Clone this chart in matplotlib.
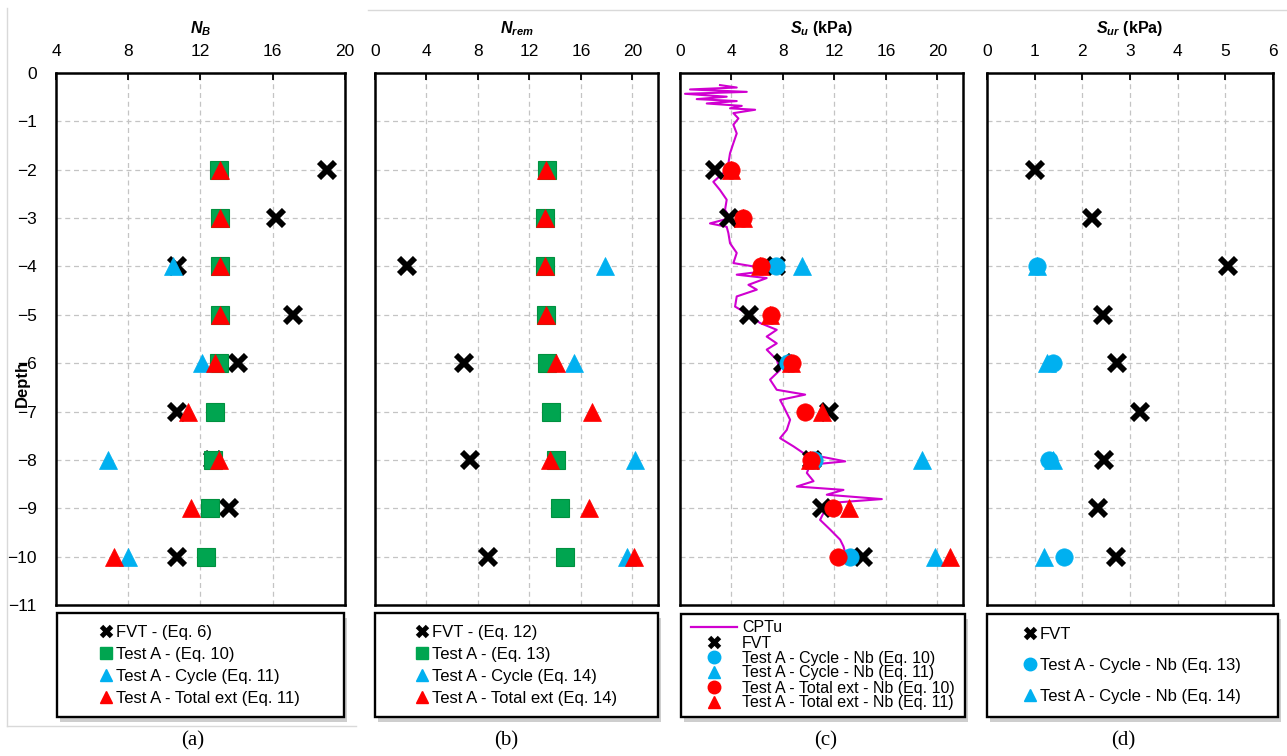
import matplotlib
matplotlib.use("Agg")
import matplotlib.pyplot as plt
from matplotlib import font_manager
from matplotlib.lines import Line2D
from matplotlib.patches import Rectangle

# ---- values ----
depth_all = [-2, -3, -4, -5, -6, -7, -8, -9, -10]
depth_even = [-4, -6, -8, -10]

# (a) N_B
nb_fvt = [19.0, 16.2, 10.7, 17.1, 14.1, 10.7, 12.7, 13.6, 10.7]
nb_testa = [13.0, 13.1, 13.1, 13.1, 13.0, 12.8, 12.7, 12.5, 12.3]
nb_cycle = [10.5, 12.1, 6.9, 8.0]
nb_total = [13.1, 13.1, 13.1, 13.1, 12.8, 11.3, 13.0, 11.5, 7.2]

# (b) N_rem
nrem_fvt = [2.5, 6.9, 7.4, 8.8]
nrem_testa = [13.4, 13.2, 13.2, 13.3, 13.4, 13.7, 14.1, 14.4, 14.8]
nrem_cycle = [17.9, 15.5, 20.2, 19.6]
nrem_total = [13.3, 13.2, 13.2, 13.3, 14.1, 16.9, 13.6, 16.6, 20.1]

# (c) S_u (kPa)
su_fvt = [2.7, 3.8, 7.5, 5.4, 8.0, 11.6, 10.3, 11.0, 14.2]
su_cycle_eq10 = [7.5, 8.4, 10.4, 13.2]
su_cycle_eq11_depth = [-4, -8, -10]
su_cycle_eq11 = [9.5, 18.8, 19.8]
su_total_eq10 = [4.0, 4.9, 6.3, 7.1, 8.7, 9.7, 10.2, 11.9, 12.3]
su_total_eq11 = [4.0, 4.9, 6.2, 7.0, 8.6, 11.0, 10.1, 13.1, 21.0]

cptu_su = [3.11, 4.41, 0.78, 5.19, 0.39, 3.63, 1.30, 4.41, 2.08, 4.80, 3.89, 5.84,
           4.15, 4.54, 4.15, 4.41, 4.15, 3.89, 3.76, 3.37, 2.59, 3.11, 3.63, 3.50,
           3.89, 2.33, 3.63, 3.76, 3.89, 4.41, 4.15, 5.71, 6.23, 4.41, 6.74, 5.32,
           5.97, 4.41, 4.28, 5.19, 6.23, 7.52, 6.74, 7.52, 6.74, 7.52, 7.78, 7.00,
           7.52, 9.73, 7.78, 8.04, 8.56, 8.30, 7.78, 8.82, 9.60, 12.84, 10.12, 9.86,
           10.38, 9.08, 12.71, 11.41, 15.69, 11.67, 11.15, 10.89, 11.67, 12.45, 12.71, 12.84]
cptu_depth = [-0.25, -0.30, -0.34, -0.39, -0.43, -0.49, -0.54, -0.58, -0.63, -0.68, -0.73, -0.76,
              -0.83, -0.94, -1.07, -1.25, -1.45, -1.66, -1.87, -2.07, -2.25, -2.42, -2.62, -2.83,
              -3.00, -3.11, -3.18, -3.31, -3.52, -3.72, -3.93, -4.00, -4.11, -4.17, -4.24, -4.38,
              -4.48, -4.62, -4.83, -4.97, -5.17, -5.31, -5.45, -5.59, -5.72, -5.93, -6.14, -6.34,
              -6.55, -6.65, -6.76, -6.89, -7.17, -7.38, -7.55, -7.72, -7.86, -8.03, -8.10, -8.27,
              -8.44, -8.55, -8.62, -8.72, -8.81, -8.89, -9.10, -9.24, -9.44, -9.65, -9.79, -9.92]

# (d) S_ur (kPa)
sur_fvt = [1.0, 2.2, 5.05, 2.43, 2.72, 3.22, 2.45, 2.33, 2.7]
sur_cycle_eq13 = [1.05, 1.38, 1.3, 1.62]
sur_cycle_eq14 = [1.05, 1.25, 1.38, 1.2]


def pick(names):
    for n in names:
        try:
            font_manager.findfont(n, fallback_to_default=False)
            return n
        except Exception:
            pass
    return 'DejaVu Sans'


SANS = pick(['Liberation Sans', 'Arial'])
NARROW = pick(['Liberation Sans Narrow', 'Liberation Sans'])
SERIF = pick(['Liberation Serif', 'DejaVu Serif'])

plt.rcParams['font.family'] = [SANS, 'DejaVu Sans']
plt.rcParams['mathtext.fontset'] = 'custom'
plt.rcParams['mathtext.it'] = SANS + ':italic'
plt.rcParams['mathtext.bf'] = SANS + ':bold'
plt.rcParams['mathtext.rm'] = SANS
try:
    plt.rcParams['mathtext.bfit'] = SANS + ':italic:bold'
except KeyError:
    pass

GREEN = '#00A550'
BLUE = '#00B0F0'
RED = '#FF0000'
MAG = '#D000D0'

W, H = 1287, 756
fig = plt.figure(figsize=(W / 100, H / 100), dpi=100)
TOP, BOT = 73, 605


def px_axes(left, right):
    return fig.add_axes([left / W, 1 - BOT / H, (right - left) / W, (BOT - TOP) / H])


def setup(ax, xlim, xticks, title, show_y):
    ax.set_xlim(*xlim)
    ax.set_ylim(-11, 0)
    ax.set_xticks(xticks)
    ax.set_yticks(list(range(0, -12, -1)))
    ax.xaxis.tick_top()
    ax.tick_params(axis='x', direction='in', length=5, width=1.3, pad=10, labelsize=12.5)
    ax.tick_params(axis='y', length=0, pad=14, labelsize=12.5, labelleft=show_y)
    ax.grid(True, color='#c4c4c4', linestyle=(0, (4, 3)), linewidth=0.9)
    ax.set_axisbelow(True)
    for s in ax.spines.values():
        s.set_linewidth(1.8)
    ax.text(0.5, 1 + (73 - 29) / (BOT - TOP), title, transform=ax.transAxes,
            ha='center', va='center', fontsize=11.5, fontweight='bold')


def fvt(ax, x, y):
    return ax.plot(x, y, ls='none', marker='x', ms=12, mew=4.2, color='black', zorder=3)[0]


def square(ax, x, y):
    return ax.plot(x, y, ls='none', marker='s', ms=12.5, mfc=GREEN, mec='#00913F', mew=0.8, zorder=4)[0]


def tri(ax, x, y, c, z=5):
    return ax.plot(x, y, ls='none', marker='^', ms=13, mfc=c, mec=c, mew=0.5, zorder=z)[0]


def circ(ax, x, y, c, z=5):
    return ax.plot(x, y, ls='none', marker='o', ms=12.5, mfc=c, mec=c, mew=0.5, zorder=z)[0]


# legend handles (smaller than the plotted markers)
h_x = Line2D([], [], ls='none', marker='x', ms=7, mew=3.5, color='black')
h_sq = Line2D([], [], ls='none', marker='s', ms=8, mfc=GREEN, mec=GREEN)
h_tb = Line2D([], [], ls='none', marker='^', ms=9, mfc=BLUE, mec=BLUE)
h_tr = Line2D([], [], ls='none', marker='^', ms=9, mfc=RED, mec=RED)
h_cb = Line2D([], [], ls='none', marker='o', ms=9, mfc=BLUE, mec=BLUE)
h_cr = Line2D([], [], ls='none', marker='o', ms=9, mfc=RED, mec=RED)
h_line = Line2D([], [], color=MAG, lw=1.6)


def legend_box(handles, labels, x0, x1, y0, y1, size, spacing, hl, htp):
    fig.add_artist(Rectangle(((x0 + 3) / W, 1 - (y1 + 5) / H), (x1 - x0) / W, (y1 - y0) / H,
                             transform=fig.transFigure, facecolor='#a6a6a6', edgecolor='none',
                             alpha=0.55, zorder=0))
    fig.add_artist(Rectangle((x0 / W, 1 - y1 / H), (x1 - x0) / W, (y1 - y0) / H,
                             transform=fig.transFigure, facecolor='white', edgecolor='black',
                             linewidth=1.7, zorder=1))
    leg = fig.legend(handles, labels, loc='center',
                     bbox_to_anchor=((x0 + x1) / 2 / W, 1 - (y0 + y1) / 2 / H),
                     frameon=False, prop={'family': NARROW, 'size': size},
                     labelspacing=spacing, handlelength=hl, handletextpad=htp,
                     borderpad=0, borderaxespad=0, numpoints=1)
    leg.set_zorder(2)


# ---- (a) N_B ----
ax = px_axes(56, 345)
setup(ax, (4, 20), [4, 8, 12, 16, 20], r'$\mathbfit{N}_{\mathbfit{B}}$', True)
fvt(ax, nb_fvt, depth_all)
square(ax, nb_testa, depth_all)
tri(ax, nb_cycle, depth_even, BLUE)
tri(ax, nb_total, depth_all, RED, 6)
fig.text(22 / W, 1 - 383 / H, 'Depth', rotation=90, ha='center', va='center',
         fontsize=12, fontweight='bold')
legend_box([h_x, h_sq, h_tb, h_tr],
           ['FVT - (Eq. 6)', 'Test A - (Eq. 10)', 'Test A - Cycle (Eq. 11)', 'Test A - Total ext (Eq. 11)'],
           57, 344, 613, 717, 12, 0.42, 0.7, 0.25)

# ---- (b) N_rem ----
ax = px_axes(375, 658)
setup(ax, (0, 22), [0, 4, 8, 12, 16, 20], r'$\mathbfit{N}_{\mathbfit{rem}}$', False)
fvt(ax, nrem_fvt, depth_even)
square(ax, nrem_testa, depth_all)
tri(ax, nrem_cycle, depth_even, BLUE)
tri(ax, nrem_total, depth_all, RED, 6)
legend_box([h_x, h_sq, h_tb, h_tr],
           ['FVT - (Eq. 12)', 'Test A - (Eq. 13)', 'Test A - Cycle (Eq. 14)', 'Test A - Total ext (Eq. 14)'],
           375, 658, 613, 717, 12, 0.42, 0.7, 0.25)

# ---- (c) S_u ----
ax = px_axes(680, 963)
setup(ax, (0, 22), [0, 4, 8, 12, 16, 20], r'$\mathbfit{S}_{\mathbfit{u}}$ (kPa)', False)
ax.plot(cptu_su, cptu_depth, color=MAG, lw=1.5, zorder=2)
fvt(ax, su_fvt, depth_all)
circ(ax, su_cycle_eq10, depth_even, BLUE, 4)
tri(ax, su_cycle_eq11, su_cycle_eq11_depth, BLUE, 4)
tri(ax, su_total_eq11, depth_all, RED, 5)
circ(ax, su_total_eq10, depth_all, RED, 6)
legend_box([h_line, h_x, h_cb, h_tb, h_cr, h_tr],
           ['CPTu', 'FVT', 'Test A - Cycle - Nb (Eq. 10)', 'Test A - Cycle - Nb (Eq. 11)',
            'Test A - Total ext - Nb (Eq. 10)', 'Test A - Total ext - Nb (Eq. 11)'],
           681, 965, 614, 717, 11.5, 0.0, 2.9, 0.3)

# ---- (d) S_ur ----
ax = px_axes(987, 1273)
setup(ax, (0, 6), [0, 1, 2, 3, 4, 5, 6], r'$\mathbfit{S}_{\mathbfit{ur}}$ (kPa)', False)
fvt(ax, sur_fvt, depth_all)
tri(ax, sur_cycle_eq14, depth_even, BLUE, 4)
circ(ax, sur_cycle_eq13, depth_even, BLUE, 5)
legend_box([h_x, h_cb, h_tb],
           ['FVT', 'Test A - Cycle - Nb (Eq. 13)', 'Test A - Cycle - Nb (Eq. 14)'],
           987, 1278, 614, 717, 12, 0.95, 0.7, 0.25)

# faint chart-area borders
for xs, ys in [([7, 7], [8, 726]), ([7, 356], [726, 726]), ([368, 1287], [10, 10])]:
    fig.add_artist(Line2D([x / W for x in xs], [1 - y / H for y in ys],
                          transform=fig.transFigure, color='#d9d9d9', lw=1))

# panel captions
for cx, lab in [(193, '(a)'), (506, '(b)'), (826, '(c)'), (1123, '(d)')]:
    fig.text(cx / W, 1 - 741 / H, lab, ha='center', va='center', fontsize=15, family=SERIF)

fig.savefig('out.png', dpi=100)
